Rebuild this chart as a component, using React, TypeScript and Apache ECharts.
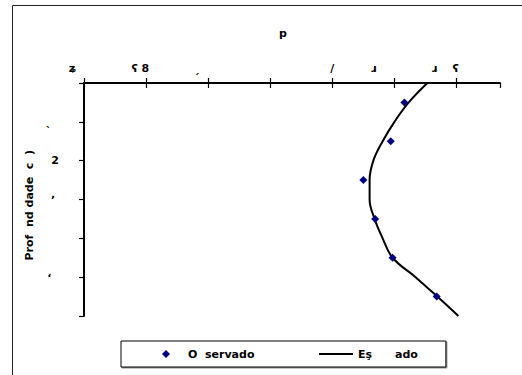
import React, { useEffect, useRef } from "react";
import * as echarts from "echarts";

// Depth (cm) of each sampled layer and the measured value at that depth
const observedDepth = [5, 15, 25, 35, 45, 55];
const observedValue = [5.16, 4.94, 4.5, 4.69, 4.97, 5.68];

// Fitted profile, sampled every 5 cm
const fittedDepth = [0, 5, 10, 15, 20, 25, 30, 35, 40, 45, 50, 55, 60];
const fittedValue = [5.53, 5.23, 5.0, 4.81, 4.66, 4.6, 4.6, 4.68, 4.81, 4.97, 5.34, 5.69, 6.03];

// Tick labels as printed on the sheet
const xTickLabels = ["ʑ      ", "ʕ 8   ", "ˏ      ", "", "/", "ɹ           ", "ɹ    ʕ      "];
const yTickLabels: Record<number, string> = { 10: "ˎ  ", 20: "2", 30: "ʼ ", 50: "ʻ  " };

const seriesNames = ["O  servado", "Eş      ado"];
const xTitle = "p";
const yTitle = "Prof  nd dade  c  )   ";

const FONT = "'DejaVu Sans', 'Liberation Sans', Arial, sans-serif";

export default function App() {
  const ref = useRef<HTMLDivElement>(null);

  useEffect(() => {
    if (!ref.current) return;
    const chart = echarts.init(ref.current, undefined, { renderer: "svg" });

    const observed = observedDepth.map((d, i) => [observedValue[i], d]);
    const fitted = fittedDepth.map((d, i) => [fittedValue[i], d]);
    const labelFont = { fontFamily: FONT, fontWeight: "bold" as const, fontSize: 11, color: "#000" };

    chart.setOption({
      animation: false,
      backgroundColor: "#fff",
      textStyle: { fontFamily: FONT },
      title: {
        text: xTitle,
        left: 279,
        top: 28,
        padding: 0,
        textStyle: labelFont,
      },
      graphic: [
        {
          type: "rect",
          shape: { x: 12.5, y: 5.5, width: 600, height: 500 },
          style: { fill: "none", stroke: "#222", lineWidth: 1 },
          silent: true,
        },
      ],
      grid: { left: 84, top: 83, width: 416, height: 233 },
      xAxis: [
        {
          type: "value",
          position: "top",
          min: 0,
          max: 6.7,
          interval: 1,
          splitLine: { show: false },
          axisLine: { show: true, lineStyle: { color: "#000", width: 2 } },
          axisTick: { show: true, inside: false, length: 5, lineStyle: { color: "#000", width: 1.2 } },
          axisLabel: {
            show: true,
            margin: 9,
            ...labelFont,
            showMaxLabel: false,
            formatter: (v: number) => xTickLabels[Math.round(v)] ?? "",
          },
        },
        {
          type: "value",
          position: "top",
          min: 0,
          max: 6.7,
          interval: 1,
          splitLine: { show: false },
          axisLine: { show: false },
          axisTick: { show: true, inside: true, length: 5, lineStyle: { color: "#000", width: 1.2 } },
          axisLabel: { show: false },
        },
      ],
      yAxis: {
        type: "value",
        inverse: true,
        min: 0,
        max: 60,
        interval: 10,
        name: yTitle,
        nameLocation: "middle",
        nameGap: 32,
        nameTextStyle: labelFont,
        splitLine: { show: false },
        axisLine: { show: true, lineStyle: { color: "#000", width: 2 } },
        axisTick: { show: true, inside: false, length: 5, lineStyle: { color: "#000", width: 1.2 } },
        axisLabel: {
          margin: 25,
          ...labelFont,
          formatter: (v: number) => yTickLabels[v] ?? "",
        },
      },
      legend: {
        left: 121,
        top: 341,
        orient: "horizontal",
        itemWidth: 34,
        itemHeight: 10,
        itemGap: 55,
        padding: [6, 28, 6, 28],
        borderColor: "#000",
        borderWidth: 1,
        backgroundColor: "#fff",
        shadowColor: "rgba(0,0,0,0.45)",
        shadowOffsetX: 1,
        shadowOffsetY: 1,
        shadowBlur: 0,
        textStyle: { ...labelFont, lineHeight: 14 },
        data: [
          { name: seriesNames[0], lineStyle: { opacity: 0, width: 0 }, textStyle: { width: 75 } },
          { name: seriesNames[1], itemStyle: { opacity: 0 } },
        ],
      },
      series: [
        {
          // measured points only; the connecting line is kept invisible
          name: seriesNames[0],
          type: "line",
          symbol: "diamond",
          symbolSize: 8,
          showSymbol: true,
          lineStyle: { width: 0, opacity: 0 },
          itemStyle: { color: "#000080" },
          data: observed,
          z: 3,
        },
        {
          name: seriesNames[1],
          type: "line",
          smooth: 0.4,
          symbol: "none",
          lineStyle: { color: "#000", width: 2 },
          itemStyle: { color: "#000", opacity: 0 },
          data: fitted,
          z: 2,
        },
      ],
    });

    return () => chart.dispose();
  }, []);

  return (
    <div style={{ position: "fixed", left: 0, top: 0, width: 522, height: 375, background: "#fff" }}>
      <div ref={ref} style={{ width: 522, height: 375 }} />
    </div>
  );
}
